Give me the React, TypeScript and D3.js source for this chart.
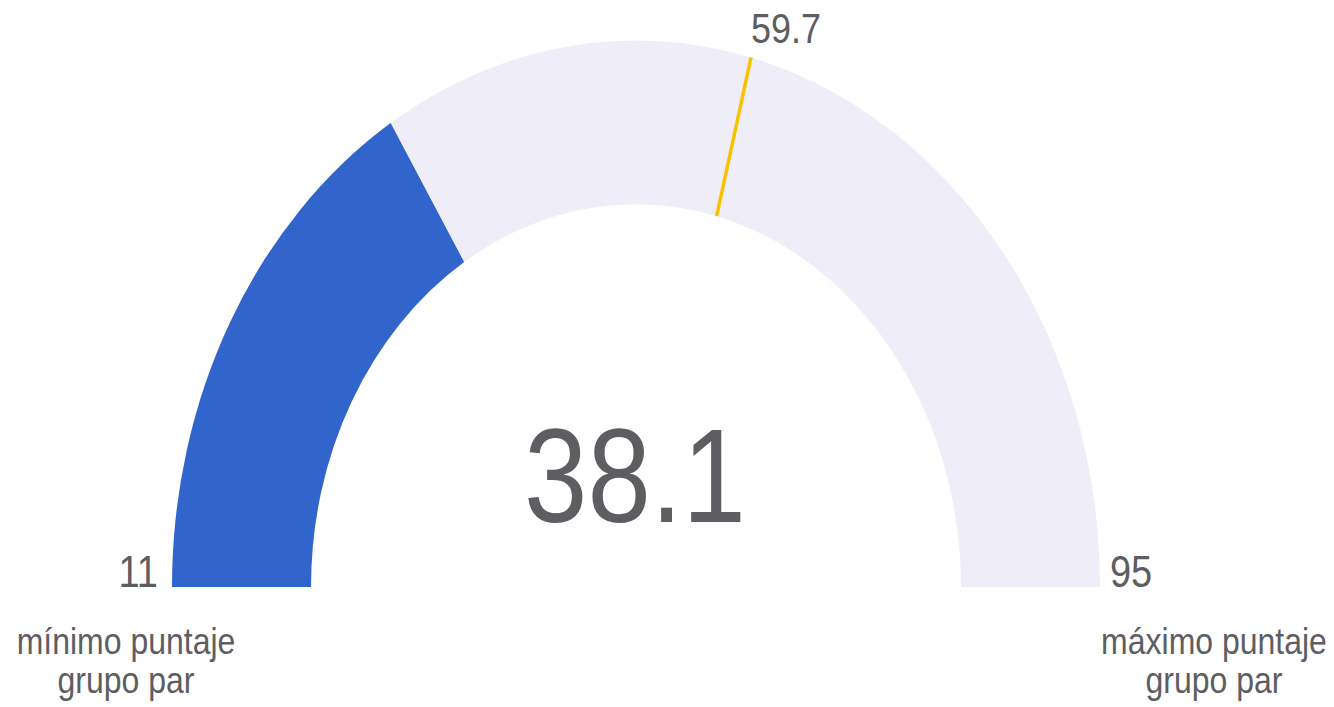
import React, { useEffect, useRef } from 'react'
import * as d3 from 'd3'

const gaugeRange = [11, 95]
const actualValue = 38.1
const targetValue = 59.7
const minLabelLines = ['mínimo puntaje', 'grupo par']
const maxLabelLines = ['máximo puntaje', 'grupo par']

export default function App(): React.ReactElement {
  const chartRef = useRef<HTMLDivElement>(null)

  useEffect(() => {
    document.body.style.margin = '0'
    const width = 1334
    const height = 707
    const cx = 636
    const cy = 498.3
    const sy = 1.178 // the visual is stretched vertically
    const outerR = 464
    const innerR = 325
    const font = '"Liberation Sans", Arial, sans-serif'
    const textColor = '#5d5d62'

    const angle = d3
      .scaleLinear()
      .domain(gaugeRange)
      .range([-Math.PI / 2, Math.PI / 2])

    d3.select(chartRef.current).select('svg').remove()

    const svg = d3
      .select(chartRef.current)
      .append('svg')
      .attr('width', width)
      .attr('height', height)
      .attr('viewBox', `0 0 ${width} ${height}`)
      .style('display', 'block')

    const g = svg.append('g').attr('transform', `scale(1,${sy})`)
    const gauge = g.append('g').attr('transform', `translate(${cx},${cy})`)

    const arc = d3.arc<{ start: number; end: number }>()
      .innerRadius(innerR)
      .outerRadius(outerR)
      .startAngle((d) => d.start)
      .endAngle((d) => d.end)

    gauge
      .append('path')
      .attr('d', arc({ start: angle(gaugeRange[0]), end: angle(gaugeRange[1]) }))
      .attr('fill', '#efedf8')

    gauge
      .append('path')
      .attr('d', arc({ start: angle(gaugeRange[0]), end: angle(actualValue) }))
      .attr('fill', '#3165cc')

    const ta = angle(targetValue)
    gauge
      .append('line')
      .attr('x1', innerR * Math.sin(ta))
      .attr('y1', -innerR * Math.cos(ta))
      .attr('x2', outerR * Math.sin(ta))
      .attr('y2', -outerR * Math.cos(ta))
      .attr('stroke', '#f7c300')
      .attr('stroke-width', 3.5)
      .attr('vector-effect', 'non-scaling-stroke')

    gauge
      .append('text')
      .attr('x', -1)
      .attr('y', 443 - cy)
      .attr('text-anchor', 'middle')
      .attr('font-family', font)
      .attr('font-size', 114)
      .attr('fill', textColor)
      .text(d3.format('.1f')(actualValue))

    gauge
      .append('text')
      .attr('x', -outerR - 14)
      .attr('y', 0)
      .attr('text-anchor', 'end')
      .attr('font-family', font)
      .attr('font-size', 38)
      .attr('fill', textColor)
      .text(gaugeRange[0])

    gauge
      .append('text')
      .attr('x', outerR + 10)
      .attr('y', 0)
      .attr('text-anchor', 'start')
      .attr('font-family', font)
      .attr('font-size', 38)
      .attr('fill', textColor)
      .text(gaugeRange[1])

    gauge
      .append('text')
      .attr('x', outerR * Math.sin(ta) + 0)
      .attr('y', 36.5 - cy)
      .attr('text-anchor', 'start')
      .attr('font-family', font)
      .attr('font-size', 36)
      .attr('fill', textColor)
      .text(targetValue)

    const labels = [
      { x: 126, lines: minLabelLines },
      { x: 1214, lines: maxLabelLines },
    ]
    labels.forEach((l) => {
      g.append('g')
        .attr('text-anchor', 'middle')
        .attr('font-family', font)
        .attr('font-size', 32)
        .attr('fill', textColor)
        .selectAll('text')
        .data(l.lines)
        .join('text')
        .attr('x', l.x)
        .attr('y', (d, i) => 555.5 + i * 32.5)
        .text((d) => d)
    })
  }, [])

  return <div ref={chartRef}></div>
}
